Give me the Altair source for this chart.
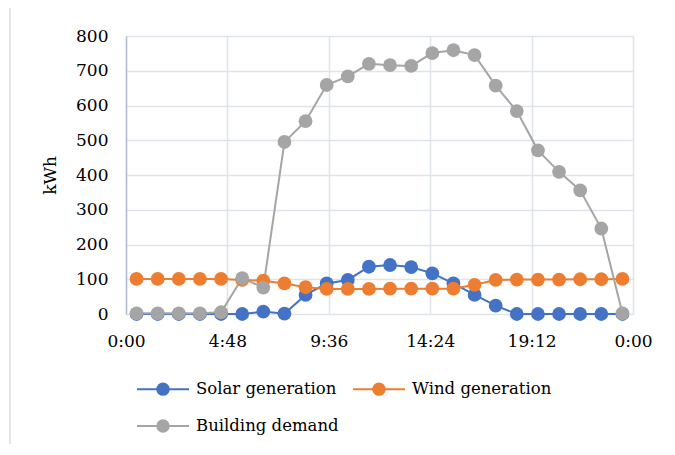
import altair as alt
import pandas as pd

times = ["0:30", "1:30", "2:30", "3:30", "4:30", "5:30", "6:30", "7:30", "8:30", "9:30",
         "10:30", "11:30", "12:30", "13:30", "14:30", "15:30", "16:30", "17:30", "18:30",
         "19:30", "20:30", "21:30", "22:30", "23:30"]
solar = [0, 0, 0, 0, 0, 0, 7, 1, 55, 88, 98, 136, 141, 135, 117, 88, 55, 24,
         0, 0, 0, 0, 0, 0]
wind = [101, 101, 101, 101, 101, 98, 96, 88, 77, 72, 72, 72, 73, 73, 73, 73, 84, 98,
        99, 99, 99, 100, 100, 101]
demand = [2, 2, 2, 2, 5, 103, 76, 495, 555, 659, 684, 720, 716, 714, 751, 759, 745, 657,
          584, 471, 409, 356, 246, 2]
series = ["Solar generation", "Wind generation", "Building demand"]
colors = ["#4472C4", "#ED7D31", "#A5A5A5"]
x_ticks = [0, 4.8, 9.6, 14.4, 19.2, 24]


def to_hours(t):
    h, m = t.split(":")
    return int(h) + int(m) / 60


rows = []
for name, vals in zip(series, [solar, wind, demand]):
    for t, v in zip(times, vals):
        rows.append({"hour": to_hours(t), "value": v, "series": name})
df = pd.DataFrame(rows)

FONT = "DejaVu Serif"
legend_symbol = "M-1,0H1M-0.22,0A0.22,0.22,0,1,1,0.22,0A0.22,0.22,0,1,1,-0.22,0Z"

lines = alt.Chart(df).mark_line(
    strokeWidth=2,
    point=alt.OverlayMarkDef(filled=True, size=190, opacity=1),
).encode(
    x=alt.X("hour:Q", scale=alt.Scale(domain=[0, 24], nice=False),
            axis=alt.Axis(values=x_ticks, title=None,
                          labelExpr="floor(datum.value) % 24 + ':' + (round((datum.value % 1) * 60) < 10 ? '0' : '') + round((datum.value % 1) * 60)",
                          grid=True, ticks=False, domain=False, labelPadding=19,
                          labelFlush=False)),
    y=alt.Y("value:Q", scale=alt.Scale(domain=[0, 800], nice=False),
            axis=alt.Axis(values=list(range(0, 801, 100)), title="kWh", grid=True,
                          ticks=False, domain=True, domainColor="#B4BFD3", domainWidth=1.5,
                          labelPadding=18, titlePadding=16)),
    color=alt.Color("series:N", scale=alt.Scale(domain=series, range=colors),
                    sort=series,
                    legend=alt.Legend(title=None, orient="none", legendX=10, legendY=326,
                                      direction="horizontal",
                                      columns=2, symbolType=legend_symbol, symbolSize=2704,
                                      symbolStrokeWidth=2, labelFont=FONT, labelFontSize=16.5,
                                      labelColor="#000000", columnPadding=10, rowPadding=-8,
                                      labelOffset=6)),
    order=alt.Order("hour:Q"),
)

frame = alt.Chart(df).mark_rect(fill="transparent", stroke="#E1E5EC", strokeWidth=2).encode(
    x=alt.value(-116), x2=alt.value(700), y=alt.value(-29), y2=alt.value(600)
)

chart = alt.layer(frame, lines).properties(
    width=507, height=278,
    autosize=alt.AutoSizeParams(type="none"),
    padding={"left": 118, "top": 28, "right": 30, "bottom": 130},
).configure_axis(
    labelFont=FONT, labelFontSize=17, labelColor="#000000",
    titleFont=FONT, titleFontSize=17, titleColor="#000000", titleFontWeight="normal",
    gridColor="#DFE3EA", gridWidth=1.5,
).configure_view(stroke=None)

chart.save("out.html", embed_options={"renderer": "svg", "actions": False})
